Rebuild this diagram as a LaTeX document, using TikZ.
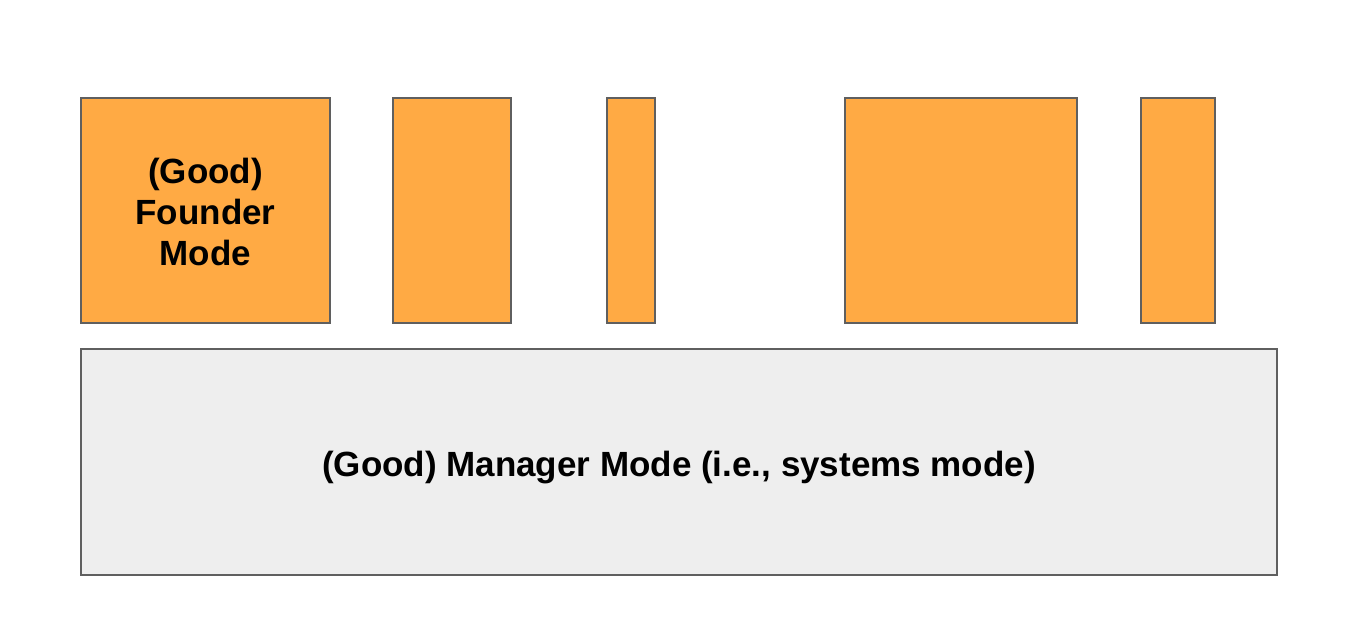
\documentclass[tikz,border=0pt]{standalone}
\usepackage{fontspec}
\setmainfont{Liberation Sans}
\definecolor{boxorange}{HTML}{FFAA44}
\definecolor{boxgray}{HTML}{EEEEEE}
\definecolor{edgegray}{HTML}{5F5F5F}
\begin{document}
\begin{tikzpicture}[x=1pt,y=-1pt,
  pillar/.style={draw=edgegray,line width=1.5pt,fill=boxorange},
  basebox/.style={draw=edgegray,line width=1.5pt,fill=boxgray},
  lbl/.style={font=\bfseries\fontsize{35}{41}\selectfont,align=center,text=black}]
\useasboundingbox (0,0) rectangle (1370,644);
\draw[pillar] (81,98) rectangle (330,323);
\node[lbl] (founder) at (205.5,212) {(Good)\\Founder\\Mode};
\draw[pillar] (393,98) rectangle (511,323);
\draw[pillar] (607,98) rectangle (655,323);
\draw[pillar] (845,98) rectangle (1077,323);
\draw[pillar] (1141,98) rectangle (1215,323);
\draw[basebox] (81,349) rectangle (1277,575);
\node[lbl] (manager) at (679,468) {(Good) Manager Mode (i.e., systems mode)};
\end{tikzpicture}
\end{document}
